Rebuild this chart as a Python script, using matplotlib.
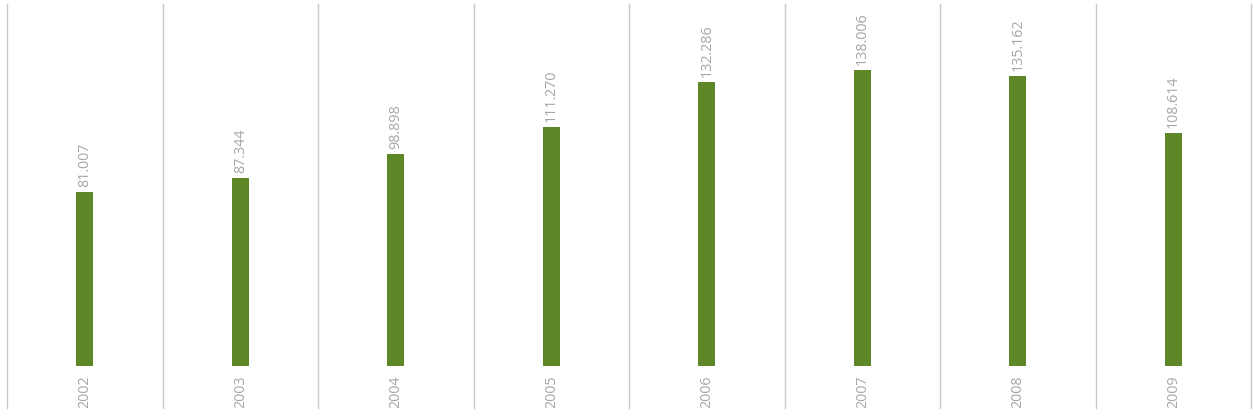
import matplotlib.pyplot as plt

plt.rcParams['font.family'] = ['Open Sans', 'DejaVu Sans']

years = ['2002', '2003', '2004', '2005', '2006', '2007', '2008', '2009']
values = [81.007, 87.344, 98.898, 111.270, 132.286, 138.006, 135.162, 108.614]

bar_color = '#5e8728'
text_color = '#a6a6a6'
grid_color = '#c8c8c8'

fig = plt.figure(figsize=(12.53, 4.2), dpi=100)
ax = fig.add_axes([7 / 1253, 12 / 420, 1244 / 1253, 404 / 420])

x = list(range(len(years)))
ax.bar(x, values, width=0.11, color=bar_color)

ax.set_xlim(-0.5, len(years) - 0.5)
ax.set_ylim(-19.5, 168.5)

# category separators
for b in range(len(years) + 1):
    ax.axvline(b - 0.5, color=grid_color, lw=1, clip_on=False, zorder=0)

for i, v in enumerate(values):
    ax.annotate(f'{v:.3f}', (i, v), xytext=(0, 5), textcoords='offset pixels',
                rotation=90, ha='center', va='bottom', fontsize=10.3, color=text_color)
    ax.annotate(years[i], (i, 0), xytext=(0, -9), textcoords='offset pixels',
                rotation=90, ha='center', va='top', fontsize=10.3, color=text_color)

ax.set_xticks([])
ax.set_yticks([])
for s in ax.spines.values():
    s.set_visible(False)

fig.savefig('out.png', dpi=100)
